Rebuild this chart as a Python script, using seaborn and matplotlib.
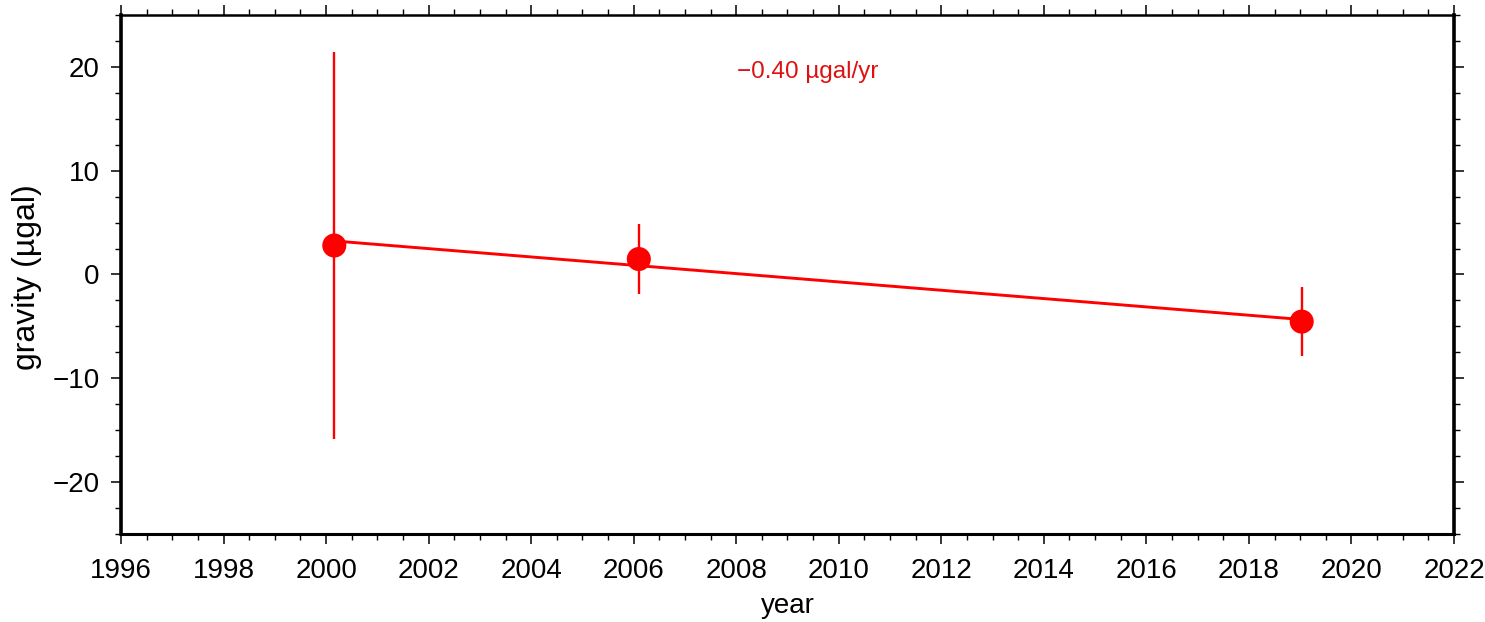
import numpy as np
import pandas as pd
import matplotlib
matplotlib.use("Agg")
import matplotlib.pyplot as plt
import seaborn as sns
from matplotlib.ticker import MultipleLocator

# ---- data ----
years = [2000.16, 2006.10, 2019.03]
gravity = [2.79, 1.49, -4.54]
errors = [18.67, 3.37, 3.31]
x_ticks = list(range(1996, 2023, 2))
y_ticks = [-20, -10, 0, 10, 20]

df = pd.DataFrame({"year": years, "gravity": gravity, "err": errors})

sns.set_theme(style="ticks")
plt.rcParams["font.family"] = ["Liberation Sans", "DejaVu Sans"]

fig = plt.figure(figsize=(14.85, 6.22), dpi=100)
ax = fig.add_axes([0.0815, 0.1415, 0.8976, 0.8344])

red = "#ff0000"
ax.errorbar(df["year"], df["gravity"], yerr=df["err"], fmt="none",
            ecolor=red, elinewidth=1.7, capsize=0, zorder=2)
sns.regplot(data=df, x="year", y="gravity", ax=ax, ci=None, scatter=False,
            color=red, line_kws={"linewidth": 2.1, "zorder": 3})
sns.scatterplot(data=df, x="year", y="gravity", ax=ax, color=red, s=300,
                edgecolor="none", zorder=4, legend=False)

slope = np.polyfit(df["year"], df["gravity"], 1)[0]
ax.text(2009.4, 19.5, f"{slope:.2f}".replace("-", "\u2212") + " \u00b5gal/yr",
        color="#dd1111", fontsize=17.5, ha="center", va="center")

ax.set_xlim(1996, 2022)
ax.set_ylim(-25, 25)
ax.set_xticks(x_ticks)
ax.set_yticks(y_ticks)
ax.set_yticklabels([f"{v}".replace("-", "\u2212") for v in y_ticks])
ax.xaxis.set_minor_locator(MultipleLocator(0.5))
ax.yaxis.set_minor_locator(MultipleLocator(2.5))

ax.tick_params(which="major", direction="out", length=7.5, width=1.1,
               labelsize=20, top=True, right=True, labeltop=False,
               labelright=False, color="black", labelcolor="black")
ax.tick_params(which="minor", direction="out", length=4, width=1.0,
               top=True, right=True, color="black")
ax.tick_params(axis="y", which="major", pad=8)
ax.tick_params(axis="x", which="major", pad=10)

ax.set_xlabel("year", fontsize=20, labelpad=6, color="black")
ax.set_ylabel("gravity (\u00b5gal)", fontsize=23, color="black")
ax.yaxis.set_label_coords(-0.059, 0.495)

for side, w in {"left": 2.6, "right": 2.6, "top": 1.8, "bottom": 2.2}.items():
    ax.spines[side].set_visible(True)
    ax.spines[side].set_linewidth(w)
    ax.spines[side].set_color("black")

fig.savefig("out.png", dpi=100, facecolor="white")
